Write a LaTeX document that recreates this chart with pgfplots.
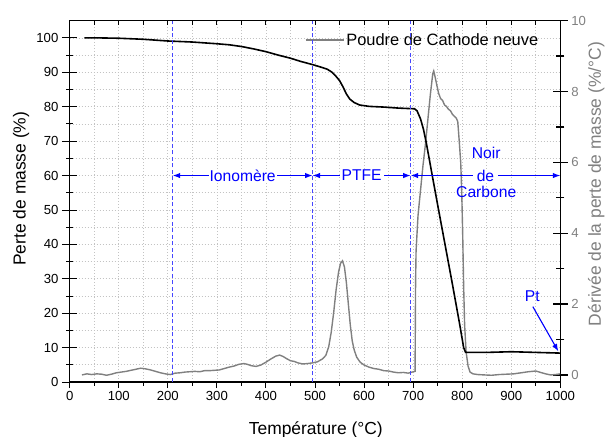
\documentclass[border=0pt]{standalone}
\usepackage{pgfplots}
\pgfplotsset{compat=1.18}
\usepackage{pgfplotstable}
\usetikzlibrary{arrows.meta}
\usepackage{fontspec}
\setmainfont{Liberation Sans}

\definecolor{courbe}{RGB}{128,128,128}
\definecolor{tiret}{RGB}{70,70,255}
\definecolor{grille}{RGB}{195,195,195}

% perte de masse (%)
\pgfplotstableread{
T m
30 100.0
60 100.0
100 99.9
150 99.6
200 99.1
250 98.8
300 98.3
325 98.0
350 97.5
375 96.8
400 96.0
425 95.0
450 94.1
470 93.2
496 92.2
510 91.6
525 90.9
535 90.0
543 88.8
550 87.6
557 85.8
564 83.7
571 82.2
580 81.2
591 80.5
610 80.1
640 79.9
670 79.6
703 79.4
708 78.8
715 76.5
721 73.5
727 69.4
739 60.0
751 50.7
765 40.0
780 28.5
795 16.7
803 10.0
807 8.6
850 8.6
900 8.8
950 8.6
1000 8.4
}\masse

% derivee (%/C)
\pgfplotstableread{
T d
25 0.00
35 0.03
45 0.01
55 0.03
65 0.02
75 -0.01
85 0.02
95 0.06
105 0.08
115 0.10
125 0.13
135 0.16
145 0.19
155 0.17
165 0.14
175 0.10
185 0.06
195 0.03
205 0.01
215 0.05
225 0.06
235 0.08
245 0.09
255 0.10
265 0.09
275 0.12
285 0.12
295 0.13
305 0.14
315 0.18
325 0.22
335 0.25
345 0.30
355 0.32
362 0.30
370 0.26
380 0.24
390 0.28
400 0.36
410 0.45
420 0.53
428 0.56
435 0.52
442 0.46
450 0.40
458 0.38
465 0.34
475 0.31
485 0.32
495 0.34
505 0.37
515 0.45
522 0.55
528 0.80
533 1.20
538 1.75
543 2.40
548 2.90
552 3.15
556 3.22
560 3.05
564 2.60
568 2.00
572 1.40
576 0.95
580 0.70
585 0.50
592 0.36
600 0.28
610 0.22
620 0.18
630 0.16
640 0.12
650 0.11
660 0.08
670 0.06
680 0.07
690 0.05
698 0.08
704 0.10
705 2.60
706 3.50
710 4.50
715 5.20
720 5.90
725 6.50
730 7.20
735 7.90
740 8.50
742 8.58
745 8.40
748 8.20
752 7.95
756 7.80
760 7.75
764 7.62
768 7.58
772 7.50
776 7.46
780 7.36
784 7.30
788 7.25
791 7.15
794 6.60
797 6.00
799 5.20
801 4.00
803 2.50
805 1.40
808 0.65
812 0.25
816 0.08
822 0.03
832 0.01
845 0.00
860 -0.01
875 0.01
890 0.02
905 0.03
920 0.06
935 0.09
950 0.11
960 0.07
970 0.03
980 0.00
990 0.01
1000 0.03
}\derivee

\pgfplotsset{
  base/.style={
    width=490.6bp, height=361.3bp, scale only axis,
    xmin=0, xmax=1000,
    /pgf/number format/assume math mode=true,
    /pgf/number format/1000 sep={},
    tick label style={font=\fontsize{13.2}{15}\selectfont},
    label style={font=\fontsize{17.5}{20}\selectfont},
  },
}

\begin{document}
\begin{tikzpicture}
\path[use as bounding box] (-69.7bp,-55bp) rectangle (539.3bp,382bp);

% grille + cadre + axe gauche
\begin{axis}[base,
  ymin=0, ymax=105,
  xtick={0,100,...,1000}, minor x tick num=1,
  xticklabels={}, x tick style={draw=none},
  ytick={0,10,...,100}, minor y tick num=1, ytick pos=left,
  tick align=center, major tick length=15.6bp, minor tick length=7.3bp,
  y tick style={black, line width=0.9bp},
  grid=both,
  major grid style={grille, dash pattern=on 1.2bp off 1.8bp, line width=0.7bp},
  minor grid style={grille, dash pattern=on 1.2bp off 1.8bp, line width=0.7bp},
  axis line style={line width=1.2bp},
  ylabel={Perte de masse (\%)},
  ylabel style={at={(axis description cs:-0.099,0.535)}, anchor=center},
]
\end{axis}

% axe droit : derivee
\begin{axis}[base,
  ymin=-0.2, ymax=10,
  xtick=\empty,
  ytick={0,2,...,10}, minor ytick={1,3,5,7,9}, ytick pos=right,
  tick align=center, major tick length=15bp, minor tick length=8bp,
  every tick/.style={black, line width=1.3bp},
  yticklabel style={courbe},
  axis line style={draw=none},
  ylabel={Dérivée de la perte de masse (\%/°C)},
  ylabel style={courbe, at={(axis description cs:1.0733,0.548)}, anchor=center},
  legend style={at={(axis description cs:0.479,0.947)}, anchor=west,
    draw=none, fill=none, inner sep=0pt,
    font=\fontsize{16.5}{18}\selectfont},
  legend image code/.code={\draw[#1] (0bp,0bp) -- (38bp,0bp);},
]
\addplot[courbe, line width=1.4bp] table[x=T, y=d] {\derivee};
\addlegendentry{Poudre de Cathode neuve}
\draw[black, line width=1.2bp] (rel axis cs:1,0) -- (rel axis cs:1,1);
\end{axis}

% axe du bas, courbe noire, annotations
\begin{axis}[base,
  ymin=0, ymax=105,
  axis x line*=bottom, axis y line=none,
  xtick={0,100,...,1000}, minor x tick num=1,
  tick align=outside, major tick length=6bp, minor tick length=3.5bp,
  x tick style={black, line width=0.9bp},
  axis line style={line width=1.2bp},
  xlabel={Température (°C)},
  xlabel style={at={(axis description cs:0.5016,-0.144)}, anchor=base},
  clip=false,
]
\addplot[black, line width=1.6bp] table[x=T, y=m] {\masse};
\draw[tiret, line width=1bp, dash pattern=on 4bp off 2.5bp] (axis cs:210,0) -- (axis cs:210,105);
\draw[tiret, line width=1bp, dash pattern=on 4bp off 2.5bp] (axis cs:495,0) -- (axis cs:495,105);
\draw[tiret, line width=1bp, dash pattern=on 4bp off 2.5bp] (axis cs:695,0) -- (axis cs:695,105);
\begin{scope}[blue, line width=1.1bp, font=\fontsize{15.7}{18}\selectfont,
  >={Latex[length=7.5bp,width=5.5bp]}]
\draw[<->] (axis cs:210,60) -- node[fill=white, inner xsep=1bp, inner ysep=1bp] {Ionomère} (axis cs:495,60);
\draw[<->] (axis cs:495,60) -- node[fill=white, inner xsep=2bp, inner ysep=1bp] {PTFE} (axis cs:695,60);
\draw[<->] (axis cs:695,60) -- node[fill=white, inner xsep=4bp, inner ysep=1bp] {de} (axis cs:1000,60);
\node at (axis cs:849,66.5) {Noir};
\node at (axis cs:849,55.3) {Carbone};
\node at (axis cs:943,24.8) {Pt};
\draw[->] (axis cs:944,21.9) -- (axis cs:996,8.9);
\end{scope}
\end{axis}

% axe du haut
\begin{axis}[base,
  ymin=0, ymax=1,
  axis x line*=top, axis y line=none,
  xtick={0,50,...,1000}, xticklabels={},
  tick align=inside, major tick length=4bp,
  x tick style={black, line width=0.9bp},
  axis line style={line width=1.2bp},
]
\end{axis}
\end{tikzpicture}
\end{document}
